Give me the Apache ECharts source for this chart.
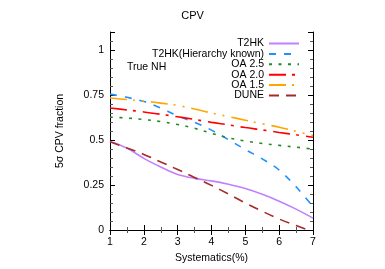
<!DOCTYPE html>
<html><head><meta charset="utf-8">
<script src="https://cdn.jsdelivr.net/npm/echarts@6/dist/echarts.min.js"></script>
<style>html,body{margin:0;padding:0;background:#fff}#c{width:385px;height:269px}</style>
</head><body><div id="c"></div>
<script>
var xs = [1,1.5,2,2.5,3,3.5,4,4.5,5,5.5,6,6.5,7];
var t2hk = [0.492,0.455,0.398,0.350,0.308,0.287,0.273,0.254,0.230,0.198,0.160,0.116,0.066];
var t2hkHier = [0.755,0.737,0.714,0.678,0.634,0.598,0.555,0.502,0.447,0.395,0.333,0.240,0.130];
var oa25 = [0.627,0.622,0.614,0.602,0.586,0.565,0.537,0.512,0.494,0.481,0.470,0.460,0.449];
var oa20 = [0.678,0.667,0.656,0.643,0.629,0.614,0.598,0.584,0.569,0.556,0.542,0.529,0.515];
var oa15 = [0.733,0.725,0.716,0.705,0.692,0.672,0.650,0.630,0.610,0.590,0.571,0.548,0.525];
var dune = [0.490,0.456,0.420,0.378,0.336,0.292,0.248,0.200,0.150,0.104,0.061,0.025,-0.010];
var names = ['T2HK','T2HK(Hierarchy known)','OA 2.5','OA 2.0','OA 1.5','DUNE'];
var yTicks = [0,0.25,0.5,0.75,1];

function pairs(v){ return xs.map(function(x,i){return [x,v[i]];}); }
var F = 'Liberation Sans, Arial, sans-serif';
var styles = [
  {color:'#c080ff', type:'solid'},
  {color:'#1e90ff', type:[7,8]},
  {color:'#228b22', type:[3,6.5]},
  {color:'#ff0000', type:[17,6,3,7]},
  {color:'#ffa500', type:[17,6,2,7,2,7]},
  {color:'#a52a2a', type:[10,7]}
];
var vals = [t2hk,t2hkHier,oa25,oa20,oa15,dune];
var series = vals.map(function(v,i){
  return {name:names[i], type:'line', data:pairs(v), smooth:0.35, symbol:'none',
    lineStyle:{color:styles[i].color, width:1.6, type:styles[i].type},
    itemStyle:{color:styles[i].color}, z:2};
});
var axCommon = function(){ return {
  axisLine:{show:true,lineStyle:{color:'#000',width:1}},
  axisTick:{show:true,inside:true,length:5,lineStyle:{color:'#000'}},
  splitLine:{show:false}
};};
var chart = echarts.init(document.getElementById('c'),null,{renderer:'canvas'});
chart.setOption({
  animation:false,
  title:{text:'CPV',left:'center',top:5,textStyle:{fontFamily:F,fontSize:11,fontWeight:'normal',color:'#000'}},
  grid:{left:110,right:72,top:32,bottom:35},
  legend:{orient:'vertical',right:80,top:33,align:'right',itemWidth:30,itemHeight:8,itemGap:-0.6,
    itemStyle:{opacity:0},
    textStyle:{fontFamily:F,fontSize:10.5,color:'#000',lineHeight:10},data:names},
  xAxis:[
    Object.assign(axCommon(), {type:'value',min:1,max:7,interval:1,minorTick:{show:true,splitNumber:2,length:3,lineStyle:{color:'#555'}},
      name:'Systematics(%)',nameLocation:'middle',nameGap:23,nameTextStyle:{fontFamily:F,fontSize:10.5,color:'#000'},
      axisLabel:{fontFamily:F,fontSize:10.5,color:'#000',margin:7}}),
    Object.assign(axCommon(), {type:'value',position:'top',min:1,max:7,interval:1,minorTick:{show:true,splitNumber:2,length:3,lineStyle:{color:'#555'}},
      axisLabel:{show:false}})
  ],
  yAxis:[
    Object.assign(axCommon(), {type:'value',min:0,max:1.1,interval:0.25,minorTick:{show:true,splitNumber:5,length:3,lineStyle:{color:'#555'}},
      name:'5σ CPV fraction',nameLocation:'middle',nameGap:44,nameTextStyle:{fontFamily:F,fontSize:10.5,color:'#000'},
      axisLabel:{fontFamily:F,fontSize:10.5,color:'#000',margin:6,showMaxLabel:false,
        formatter:function(v){ for(var i=0;i<yTicks.length;i++){ if(Math.abs(v-yTicks[i])<1e-6) return String(yTicks[i]); } return ''; }}}),
    Object.assign(axCommon(), {type:'value',position:'right',min:0,max:1.1,interval:0.25,minorTick:{show:true,splitNumber:5,length:3,lineStyle:{color:'#555'}},
      axisLabel:{show:false}})
  ],
  graphic:[{type:'text',left:127,top:62,style:{text:'True NH',fontFamily:F,fontSize:10.5,fill:'#000'}}],
  series:series
});
</script></body></html>
